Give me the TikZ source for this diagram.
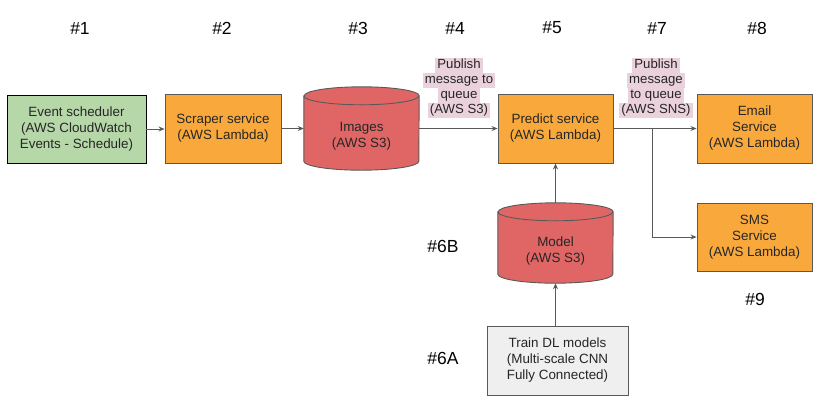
\documentclass[tikz,border=0pt]{standalone}
\usepackage{fontspec}
\setmainfont{Liberation Sans}
\usetikzlibrary{arrows.meta,calc}
\pgfdeclarelayer{bg}
\pgfsetlayers{bg,main}
\definecolor{grn}{HTML}{B6D7A8}
\definecolor{org}{HTML}{F9A93C}
\definecolor{cylred}{HTML}{E06666}
\definecolor{lgray}{HTML}{EFEFEF}
\definecolor{pinkbg}{HTML}{EAD1DC}
\definecolor{edge}{HTML}{595959}
\definecolor{txt}{HTML}{262626}
\newcommand{\hlline}[1]{{\setlength{\fboxsep}{0pt}\colorbox{pinkbg}{\rule[-4pt]{0pt}{15pt}\,#1\,}}}
\tikzset{
  hdr/.style={font=\fontsize{17.5}{20}\selectfont, text=black},
  box/.style={draw=edge, line width=0.9pt, align=center, text=txt, inner sep=0pt,
    font=\fontsize{13.4}{16}\selectfont},
  cylnode/.style={inner sep=0pt},
  cyltext/.style={align=center, text=txt, font=\fontsize{13.4}{16}\selectfont},
  lbl/.style={align=center, text=txt, inner sep=0pt, font=\fontsize{13.2}{15}\selectfont},
  conn/.style={draw=edge, line width=1pt, -{Stealth[length=6pt,width=5pt]}},
  plain/.style={draw=edge, line width=1pt},
  cylfill/.style={fill=cylred, draw=edge, line width=0.9pt}
}
\begin{document}
\begin{tikzpicture}[x=1pt,y=1pt]
\useasboundingbox (0,0) rectangle (820,-402);
% headers
\node[hdr] (h1) at (80,-28) {\#1};
\node[hdr] (h2) at (222,-28) {\#2};
\node[hdr] (h3) at (358,-28) {\#3};
\node[hdr] (h4) at (455,-28) {\#4};
\node[hdr] (h5) at (552,-28) {\#5};
\node[hdr] (h7) at (657,-28) {\#7};
\node[hdr] (h8) at (757,-28) {\#8};
\node[hdr] (h6b) at (443,-246) {\#6B};
\node[hdr] (h6a) at (443,-358) {\#6A};
\node[hdr] (h9) at (755,-299) {\#9};
% boxes
\node[box, draw=black, fill=grn, minimum width=139pt, minimum height=68pt] (ev) at (76.5,-129)
  {Event scheduler\\(AWS CloudWatch\\Events - Schedule)};
\node[box, fill=org, minimum width=116pt, minimum height=69pt] (scr) at (223,-128.5)
  {Scraper service\\(AWS Lambda)};
\node[box, fill=org, minimum width=115pt, minimum height=69pt] (pred) at (555.5,-128.5)
  {Predict service\\(AWS Lambda)};
\node[box, fill=org, minimum width=115pt, minimum height=69pt] (email) at (754.5,-128.5)
  {Email\\Service\\(AWS Lambda)};
\node[box, fill=org, minimum width=115pt, minimum height=68pt] (sms) at (754.5,-237)
  {SMS\\Service\\(AWS Lambda)};
\node[box, fill=lgray, minimum width=141pt, minimum height=69pt] (train) at (557.5,-360.5)
  {Train DL models\\(Multi-scale CNN\\Fully Connected)};
% cylinders
\node[cylnode, minimum width=115pt, minimum height=83pt] (img) at (361.5,-128.5) {};
\node[cyltext] (imgtxt) at ($(img.center)+(0,-8)$) {Images\\(AWS S3)};
\node[cylnode, minimum width=115pt, minimum height=80pt] (mdl) at (555.5,-243) {};
\node[cyltext] (mdltxt) at ($(mdl.center)+(0,-8)$) {Model\\(AWS S3)};
\begin{pgfonlayer}{bg}
\foreach \c in {img,mdl}{
  \path[cylfill] ($(\c.north west)+(0,-9)$) -- ($(\c.south west)+(0,9)$)
    arc[start angle=180,end angle=360,x radius=57.5,y radius=9]
    -- ($(\c.north east)+(0,-9)$)
    arc[start angle=0,end angle=180,x radius=57.5,y radius=9] -- cycle;
  \draw[draw=edge, line width=0.9pt] ($(\c.north west)+(0,-9)$)
    arc[start angle=180,end angle=360,x radius=57.5,y radius=9];
}
\end{pgfonlayer}
% labels
\node[lbl] (lbl4) at (459,-87.5)
  {\hlline{Publish}\\\hlline{message to}\\\hlline{queue}\\\hlline{(AWS S3)}};
\node[lbl] (lbl7) at (656,-87.5)
  {\hlline{Publish}\\\hlline{message}\\\hlline{to queue}\\\hlline{(AWS SNS)}};
% connectors
\draw[conn] (ev.east) -- (scr.west |- ev.east);
\draw[conn] (scr.east) -- (img.west |- scr.east);
\draw[conn] (img.east) -- (pred.west);
\draw[conn] (pred.east) -- (email.west);
\coordinate (br) at (652,-128.5);
\draw[conn] (br) |- (sms.west);
\draw[conn] (mdl.north) -- (pred.south);
\draw[conn] (train.north -| mdl.south) -- (mdl.south);
\end{tikzpicture}
\end{document}
